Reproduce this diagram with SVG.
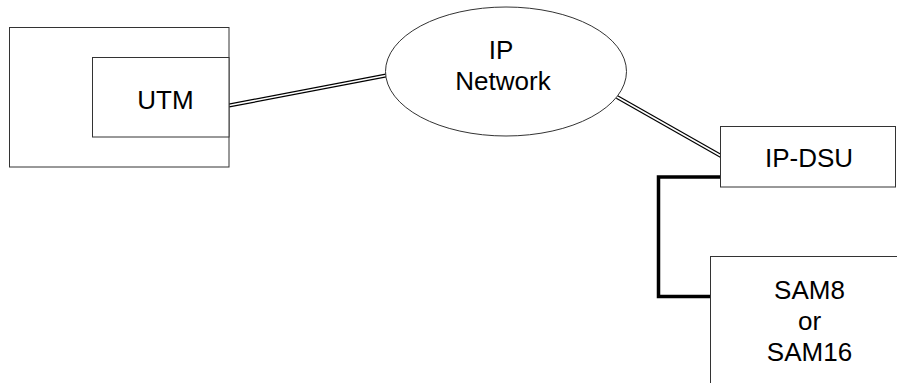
<svg xmlns="http://www.w3.org/2000/svg" width="897" height="383" viewBox="0 0 897 383">
<style>
.box{fill:#fff;stroke:#333;stroke-width:1}
.lbl{font-family:"Liberation Sans",Arial,sans-serif;font-size:26px;fill:#000;text-anchor:middle}
.dbl-o{fill:none;stroke:#000;stroke-width:4}
.dbl-i{fill:none;stroke:#fff;stroke-width:1.6}
.thick{fill:none;stroke:#000;stroke-width:3.5}
</style>
<rect width="897" height="383" fill="#fff"/>
<g id="connectors">
<line class="dbl-o" x1="229" y1="105.5" x2="386" y2="75.5"/>
<line class="dbl-i" x1="229" y1="105.5" x2="386" y2="75.5"/>
<line class="dbl-o" x1="617" y1="97" x2="721" y2="156"/>
<line class="dbl-i" x1="617" y1="97" x2="721" y2="156"/>
<polyline class="thick" points="721,177 658.5,177 658.5,296.5 710.5,296.5"/>
</g>
<g id="host">
<rect class="box" x="9.5" y="27.5" width="219.5" height="139.5"/>
</g>
<g id="utm">
<rect class="box" x="92.5" y="57.5" width="136.5" height="79.5"/>
<text class="lbl" x="165.5" y="109">UTM</text>
</g>
<g id="ipnet">
<ellipse class="box" cx="506" cy="71.5" rx="120.5" ry="64.5"/>
<text class="lbl" x="501" y="59">IP</text>
<text class="lbl" x="503" y="90">Network</text>
</g>
<g id="ipdsu">
<rect class="box" x="720.5" y="126.5" width="175" height="60.5"/>
<text class="lbl" x="809" y="167">IP-DSU</text>
</g>
<g id="sam">
<rect class="box" x="710.5" y="256.5" width="200" height="140"/>
<text class="lbl" x="809.5" y="299">SAM8</text>
<text class="lbl" x="809.5" y="330">or</text>
<text class="lbl" x="809.5" y="361">SAM16</text>
</g>
</svg>
